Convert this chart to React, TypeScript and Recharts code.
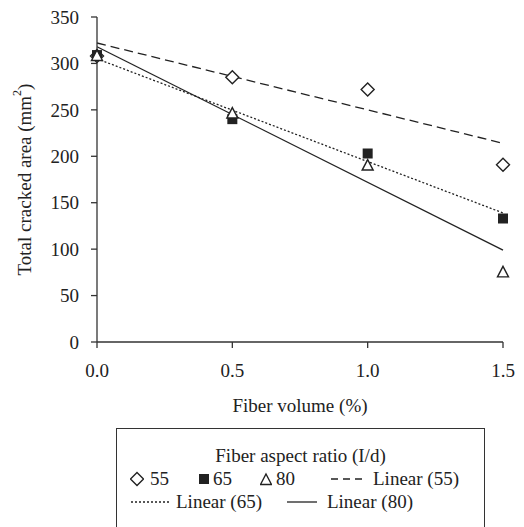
import React from 'react';
import {
  ComposedChart,
  Line,
  Scatter,
  XAxis,
  YAxis,
  Legend,
} from 'recharts';

// fiber volume (%)
const fiberVolume = [0, 0.5, 1.0, 1.5];
// total cracked area (mm2) per aspect ratio
const ar55 = [308, 285, 272, 191];
const ar65 = [309, 240, 203, 133];
const ar80 = [308, 246, 190, 75];
// trend line ends (at 0.0 and 1.5)
const trendX = [0, 1.5];
const linear55 = [322, 214];
const linear65 = [305, 139];
const linear80 = [318, 99];
const yTicks = [0, 50, 100, 150, 200, 250, 300, 350];
const xTicks = [0, 0.5, 1.0, 1.5];

// no serif face is available in the sandbox, so use a sans with Times-like widths
const FONT = '"Liberation Serif", "Liberation Sans", Arial, sans-serif';
const FS = 19;
const INK = '#222';

const rows = fiberVolume.map((x, i) => ({ x, a55: ar55[i], a65: ar65[i], a80: ar80[i] }));
const t55 = trendX.map((x, i) => ({ x, t55: linear55[i] }));
const t65 = trendX.map((x, i) => ({ x, t65: linear65[i] }));
const t80 = trendX.map((x, i) => ({ x, t80: linear80[i] }));

const Diamond = ({ cx, cy }: any) => (
  <path
    d={`M${cx},${cy - 6.5}L${cx + 6.5},${cy}L${cx},${cy + 6.5}L${cx - 6.5},${cy}Z`}
    fill="#fff"
    stroke={INK}
    strokeWidth={1.4}
  />
);
const Square = ({ cx, cy }: any) => (
  <rect x={cx - 5} y={cy - 5} width={10} height={10} fill={INK} />
);
const Triangle = ({ cx, cy }: any) => (
  <path
    d={`M${cx},${cy - 6}L${cx + 5.5},${cy + 4.5}L${cx - 5.5},${cy + 4.5}Z`}
    fill="#fff"
    stroke={INK}
    strokeWidth={1.4}
  />
);

const Icon = ({ w, children }: { w: number; children: React.ReactNode }) => (
  <svg width={w} height={16} style={{ display: 'block' }}>
    {children}
  </svg>
);

const LegendBox = () => (
  <div
    style={{
      boxSizing: 'border-box',
      width: 369,
      height: 100,
      border: '1.3px solid #333',
      fontFamily: FONT,
      fontSize: FS,
      color: INK,
      lineHeight: '23px',
      paddingTop: 15,
    }}
  >
    <div style={{ textAlign: 'center' }}>Fiber aspect ratio (I/d)</div>
    <div style={{ display: 'flex', alignItems: 'center', paddingLeft: 13 }}>
      <Icon w={14}>
        <Diamond cx={7} cy={8} />
      </Icon>
      <span style={{ marginLeft: 6, marginRight: 29 }}>55</span>
      <Icon w={12}>
        <Square cx={6} cy={8} />
      </Icon>
      <span style={{ marginLeft: 3, marginRight: 28 }}>65</span>
      <Icon w={12}>
        <Triangle cx={6} cy={9} />
      </Icon>
      <span style={{ marginLeft: 4, marginRight: 36 }}>80</span>
      <Icon w={31}>
        <line x1={0} y1={8} x2={31} y2={8} stroke={INK} strokeWidth={1.3} strokeDasharray="7 5" />
      </Icon>
      <span style={{ marginLeft: 11 }}>Linear (55)</span>
    </div>
    <div style={{ display: 'flex', alignItems: 'center', paddingLeft: 14 }}>
      <Icon w={40}>
        <line x1={0} y1={8} x2={40} y2={8} stroke={INK} strokeWidth={1.3} strokeDasharray="2 2" />
      </Icon>
      <span style={{ marginLeft: 5, marginRight: 25 }}>Linear (65)</span>
      <Icon w={30}>
        <line x1={0} y1={8} x2={30} y2={8} stroke={INK} strokeWidth={1.3} />
      </Icon>
      <span style={{ marginLeft: 10 }}>Linear (80)</span>
    </div>
  </div>
);

const YLabel = ({ viewBox }: any) => {
  const cy = viewBox.y + viewBox.height / 2;
  return (
    <text
      x={viewBox.x + 24}
      y={cy}
      transform={`rotate(-90, ${viewBox.x + 24}, ${cy})`}
      textAnchor="middle"
      dominantBaseline="central"
      fontFamily={FONT}
      fontSize={FS}
      fill={INK}
    >
      Total cracked area (mm<tspan dy={-7} fontSize={12}>2</tspan>
      <tspan dy={7}>)</tspan>
    </text>
  );
};

export default function App() {
  const tickStyle = { fontFamily: FONT, fontSize: FS, fill: INK };
  return (
    <div style={{ position: 'absolute', left: 0, top: 0, width: 524, height: 527, background: '#fff', fontFamily: FONT }}>
      <ComposedChart
        width={524}
        height={527}
        data={rows}
        margin={{ top: 17, right: 21, left: 0, bottom: 107 }}
        style={{ fontFamily: FONT }}
      >
        <XAxis
          dataKey="x"
          type="number"
          domain={[0, 1.5]}
          ticks={xTicks}
          tickFormatter={(v: number) => v.toFixed(1)}
          height={78}
          stroke="#333"
          strokeWidth={1.3}
          tickSize={6}
          tickMargin={16}
          tick={tickStyle}
          label={{
            value: 'Fiber volume (%)',
            position: 'insideBottom',
            offset: 8,
            style: { fontFamily: FONT, fontSize: FS, fill: INK },
          }}
        />
        <YAxis
          type="number"
          domain={[0, 350]}
          ticks={yTicks}
          width={97}
          stroke="#333"
          strokeWidth={1.3}
          tickSize={6}
          tickMargin={12}
          tick={tickStyle}
          label={{ content: (p: any) => <YLabel viewBox={p.viewBox} /> }}
        />
        <Line data={t55} dataKey="t55" stroke={INK} strokeWidth={1.3} strokeDasharray="9 5" dot={false} isAnimationActive={false} />
        <Line data={t65} dataKey="t65" stroke={INK} strokeWidth={1.3} strokeDasharray="2 2" dot={false} isAnimationActive={false} />
        <Line data={t80} dataKey="t80" stroke={INK} strokeWidth={1.3} dot={false} isAnimationActive={false} />
        <Scatter dataKey="a55" shape={(p: any) => <Diamond cx={p.cx} cy={p.cy} />} isAnimationActive={false} />
        <Scatter dataKey="a65" shape={(p: any) => <Square cx={p.cx} cy={p.cy} />} isAnimationActive={false} />
        <Scatter dataKey="a80" shape={(p: any) => <Triangle cx={p.cx} cy={p.cy} />} isAnimationActive={false} />
        <Legend
          layout="horizontal"
          verticalAlign="middle"
          align="center"
          wrapperStyle={{ left: 116, top: 428, width: 369, height: 100 }}
          content={() => <LegendBox />}
        />
      </ComposedChart>
    </div>
  );
}
